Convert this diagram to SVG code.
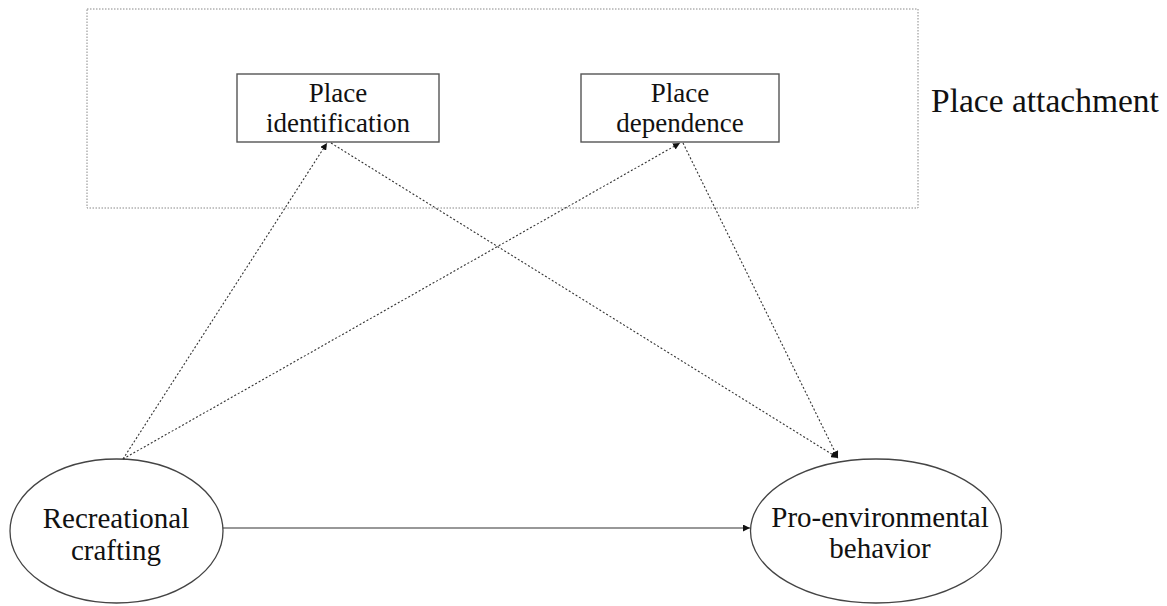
<svg xmlns="http://www.w3.org/2000/svg" width="1167" height="606" viewBox="0 0 1167 606">
  <style>
    .lbl { font-family: "Liberation Serif", "Times New Roman", serif; fill: #111; text-anchor: middle; }
    .box { fill: #fff; stroke: #555; stroke-width: 1.4; }
    .oval { fill: #fff; stroke: #444; stroke-width: 1.3; }
    .dot { fill: none; stroke: #333; stroke-width: 1.1; stroke-dasharray: 2 2; }
    .solid { fill: none; stroke: #333; stroke-width: 1.2; }
  </style>
  <defs>
    <marker id="head" viewBox="0 0 10 10" refX="10" refY="5" markerWidth="7" markerHeight="7" markerUnits="userSpaceOnUse" orient="auto">
      <path d="M0,0 L10,5 L0,10 Z" fill="#111"/>
    </marker>
  </defs>
  <rect width="1167" height="606" fill="#fff"/>

  <!-- construct group -->
  <g id="place-attachment">
    <rect x="87" y="9" width="831" height="199" fill="none" stroke="#888" stroke-width="1" stroke-dasharray="1.5 1.5"/>
    <text class="lbl" x="931" y="112" font-size="33.5" style="text-anchor:start">Place attachment</text>
  </g>

  <g id="place-identification">
    <rect class="box" x="237" y="74" width="202" height="68"/>
    <text class="lbl" x="338" y="102" font-size="27">Place</text>
    <text class="lbl" x="338" y="132" font-size="27">identification</text>
  </g>

  <g id="place-dependence">
    <rect class="box" x="581" y="74" width="198" height="68"/>
    <text class="lbl" x="680" y="102" font-size="27">Place</text>
    <text class="lbl" x="680" y="132" font-size="27">dependence</text>
  </g>

  <g id="recreational-crafting">
    <ellipse class="oval" cx="116.5" cy="531" rx="106.5" ry="72"/>
    <text class="lbl" x="116" y="528" font-size="29">Recreational</text>
    <text class="lbl" x="116" y="560" font-size="29">crafting</text>
  </g>

  <g id="pro-environmental-behavior">
    <ellipse class="oval" cx="876" cy="531" rx="125.5" ry="72"/>
    <text class="lbl" x="880" y="527" font-size="29">Pro-environmental</text>
    <text class="lbl" x="880" y="558" font-size="29">behavior</text>
  </g>

  <g id="connectors">
    <line class="dot" x1="123" y1="459" x2="327" y2="143" marker-end="url(#head)"/>
    <line class="dot" x1="123" y1="459" x2="680" y2="143" marker-end="url(#head)"/>
    <line class="dot" x1="331" y1="143" x2="838" y2="458" marker-end="url(#head)"/>
    <line class="dot" x1="683" y1="143" x2="838" y2="458" marker-end="url(#head)"/>
    <line class="solid" x1="223" y1="528" x2="750" y2="528" marker-end="url(#head)"/>
  </g>
</svg>
